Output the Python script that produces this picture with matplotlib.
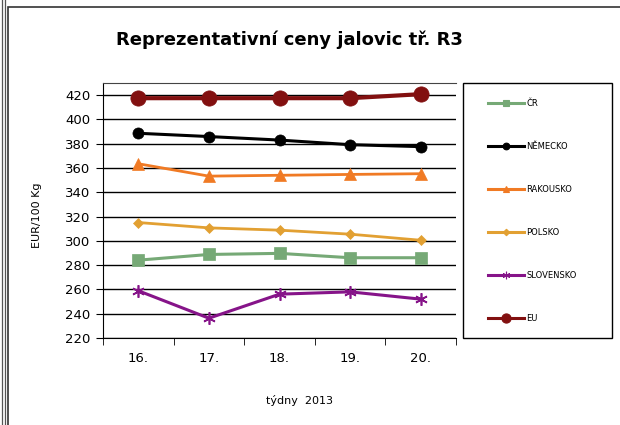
import matplotlib.pyplot as plt
from matplotlib.lines import Line2D
from matplotlib.patches import Rectangle
import numpy as np

weeks = ["16.", "17.", "18.", "19.", "20."]
cr = [284.1, 288.8, 289.7, 286.1, 286.1]
nemecko = [388.6, 385.9, 383.0, 379.2, 377.6]
rakousko = [363.5, 353.3, 354.0, 354.7, 355.3]
polsko = [315.1, 310.7, 308.8, 305.5, 300.5]
slovensko = [258.9, 236.3, 256.1, 258.0, 252.0]
eu = [417.5, 417.5, 417.5, 417.5, 420.8]
yticks = list(range(220, 421, 20))

series = [
    ("ČR", cr, "#76a976", "s", 8, 2.2),
    ("NĚMECKO", nemecko, "black", "o", 8, 2.2),
    ("RAKOUSKO", rakousko, "#f07a24", "^", 8, 2.0),
    ("POLSKO", polsko, "#e2a032", "D", 5.5, 2.0),
    ("SLOVENSKO", slovensko, "#861489", (6, 2, 0), 9, 2.2),
    ("EU", eu, "#821010", "o", 11, 3.0),
]

fig = plt.figure(figsize=(6.2, 4.25), dpi=100)
# outer frames
fig.add_artist(Rectangle((8 / 620, -0.01), 0.99, 1 - 7 / 425 + 0.01, transform=fig.transFigure,
                         fill=False, ec="#333333", lw=1.2))
for xx in (1.5, 4.5):
    fig.add_artist(Line2D([xx / 620, xx / 620], [0, 1], transform=fig.transFigure, color="#555555", lw=0.9))

ax = fig.add_axes([103 / 620, 1 - 338 / 425, (456 - 103) / 620, (338 - 83) / 425])
x = np.arange(len(weeks))
for name, vals, col, mk, ms, lw in series:
    ax.plot(x, vals, color=col, marker=mk, markersize=ms, lw=lw, label=name,
            markeredgecolor=col, markeredgewidth=1.2 if mk == (6, 2, 0) else 0.5, zorder=3)

ax.set_xlim(-0.5, len(weeks) - 0.5)
ax.set_ylim(220, 430)
ax.set_yticks(yticks)
ax.set_yticklabels([str(v) for v in yticks], fontsize=9.5)
ax.set_xticks(x)
ax.set_xticklabels(weeks, fontsize=9.5)
ax.set_xticks(np.arange(-0.5, len(weeks)), minor=True)
ax.tick_params(axis="x", which="major", length=0, pad=10)
ax.tick_params(axis="x", which="minor", length=5, direction="out")
ax.tick_params(axis="y", length=5, direction="out", pad=4)
ax.yaxis.grid(True, color="black", lw=1)
ax.set_axisbelow(True)
ax.spines["right"].set_visible(False)
ax.spines["top"].set_color("#444444")
ax.spines["top"].set_linewidth(0.8)

fig.text(37 / 620, 1 - 215 / 425, "EUR/100 Kg", rotation=90, ha="center", va="center", fontsize=8)
fig.text(300 / 620, 1 - 401 / 425, "týdny  2013", ha="center", va="center", fontsize=8)
fig.text(289 / 620, 1 - 40 / 425, "Reprezentativní ceny jalovic tř. R3", ha="center", va="center",
         fontsize=13, fontweight="bold")

# legend frame
fig.add_artist(Rectangle((463 / 620, 1 - 338 / 425), (612 - 463) / 620, (338 - 83) / 425,
                         transform=fig.transFigure, fill=False, ec="black", lw=1.0))
handles = []
for name, vals, col, mk, ms, lw in series:
    handles.append(Line2D([], [], color=col, lw=2.2, marker=mk, markersize=ms * 0.6,
                          markeredgecolor=col, markeredgewidth=0.8))
leg = fig.legend(handles, [s[0] for s in series], loc="upper left",
                 bbox_to_anchor=(488 / 620, 1 - 99 / 425), fontsize=6, frameon=False,
                 labelspacing=4.08, handlelength=4.3, handletextpad=0.3, borderpad=0,
                 borderaxespad=0)

fig.savefig("out.png", dpi=100)
